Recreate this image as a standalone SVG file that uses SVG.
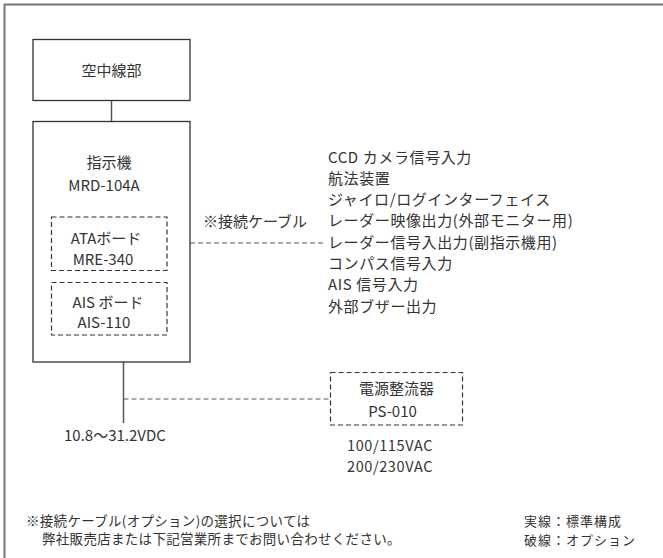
<svg xmlns="http://www.w3.org/2000/svg" width="663" height="558" viewBox="0 0 663 558">
<style>
text{font-family:"Noto Sans CJK JP","Noto Sans",sans-serif;font-size:15px;fill:#333}
.c{text-anchor:middle}
.l{font-size:15px;letter-spacing:0.6px}
.v{font-size:14.5px;letter-spacing:0.6px}
.f{font-size:13.5px;letter-spacing:0.3px}
.r{font-size:13px;letter-spacing:1px}
.box{fill:#fff;stroke:#333;stroke-width:1.3}
.dbox{fill:none;stroke:#333;stroke-width:1.2;stroke-dasharray:5,3}
.ln{stroke:#555;stroke-width:1.5;fill:none}
.dl{stroke:#555;stroke-width:1.2;fill:none;stroke-dasharray:5,3}
</style>
<rect x="0" y="0" width="663" height="558" fill="#fff"/>
<path d="M4.5,558 V4.5 H663" stroke="#777" stroke-width="2" fill="none"/>
<g id="connectors">
<line class="ln" x1="111.5" y1="100.5" x2="111.5" y2="121.5"/>
<line class="dl" x1="190" y1="243" x2="326" y2="243"/>
<line class="ln" x1="123.5" y1="362" x2="123.5" y2="423"/>
<line class="dl" x1="123.5" y1="399" x2="330" y2="399"/>
</g>
<g id="antenna">
<rect class="box" x="33" y="39.5" width="157" height="61"/>
<text class="c" x="111.5" y="76">空中線部</text>
</g>
<g id="display">
<rect class="box" x="33" y="121.5" width="157" height="240.5"/>
<text class="c" x="109" y="168">指示機</text>
<text class="c" x="104" y="191">MRD-104A</text>
</g>
<g id="ata">
<rect class="dbox" x="51.5" y="217" width="115.5" height="53.5"/>
<text class="c" x="106" y="243.5">ATAボード</text>
<text class="c" x="103" y="264.5">MRE-340</text>
</g>
<g id="ais">
<rect class="dbox" x="51.5" y="282.5" width="115.5" height="52.5"/>
<text class="c" x="108" y="307.5">AIS ボード</text>
<text class="c" x="104" y="328">AIS-110</text>
</g>
<g id="cable">
<text x="203" y="227">※接続ケーブル</text>
</g>
<g id="list">
<text class="l" x="328" y="162.5">CCD カメラ信号入力</text>
<text class="l" x="328" y="183.8">航法装置</text>
<text class="l" x="328" y="205.1">ジャイロ/ログインターフェイス</text>
<text class="l" x="328" y="226.4">レーダー映像出力(外部モニター用)</text>
<text class="l" x="328" y="247.7">レーダー信号入出力(副指示機用)</text>
<text class="l" x="328" y="269">コンパス信号入力</text>
<text class="l" x="328" y="290.3">AIS 信号入力</text>
<text class="l" x="328" y="311.6">外部ブザー出力</text>
</g>
<g id="psu">
<rect class="dbox" x="330.5" y="372.5" width="132" height="52.5"/>
<text class="c" x="396.5" y="393.5">電源整流器</text>
<text class="c" x="392.5" y="417">PS-010</text>
</g>
<g id="labels">
<text x="64" y="441">10.8〜31.2VDC</text>
<text class="c v" x="390" y="450.5">100/115VAC</text>
<text class="c v" x="390" y="471.8">200/230VAC</text>
<text class="f" x="26" y="526">※接続ケーブル(オプション)の選択については</text>
<text class="f" x="42" y="544">弊社販売店または下記営業所までお問い合わせください。</text>
<text class="r" x="524" y="525.5">実線：標準構成</text>
<text class="r" x="524" y="544.5">破線：オプション</text>
</g>
</svg>
